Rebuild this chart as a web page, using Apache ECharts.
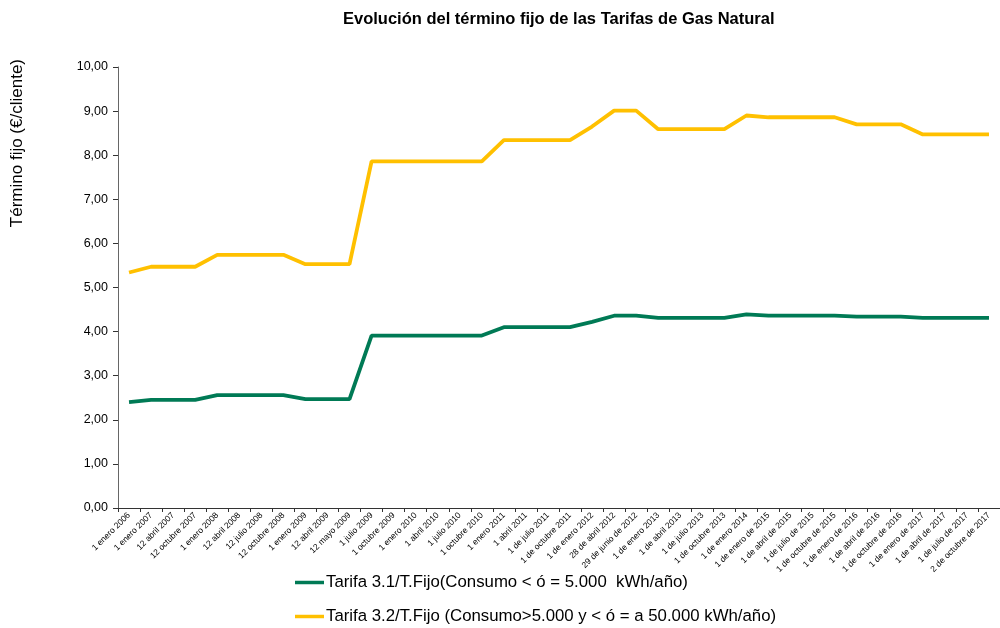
<!DOCTYPE html>
<html>
<head>
<meta charset="utf-8">
<script src="https://cdn.jsdelivr.net/npm/echarts@6/dist/echarts.min.js"></script>
<style>
  html, body { margin: 0; padding: 0; background: #fff; }
  #main { width: 1000px; height: 628px; }
</style>
</head>
<body>
<div id="main"></div>
<script>
// fechas de cada tarifa
var categories = [
    '1 enero 2006', '1 enero 2007', '12 abril 2007', '12 octubre 2007',
    '1 enero 2008', '12 abril 2008', '12 julio 2008', '12 octubre 2008',
    '1 enero 2009', '12 abril 2009', '12 mayo 2009', '1 julio 2009',
    '1 octubre 2009', '1 enero 2010', '1 abril 2010', '1 julio 2010',
    '1 octubre 2010', '1 enero 2011', '1 abril 2011', '1 de julio 2011',
    '1 de octubre 2011', '1 de enero 2012', '28 de abril 2012', '29 de junio de 2012',
    '1 de enero 2013', '1 de abril 2013', '1 de julio 2013', '1 de octubre 2013',
    '1 de enero 2014', '1 de enero de 2015', '1 de abril de 2015', '1 de julio de 2015',
    '1 de octubre de 2015', '1 de enero de 2016', '1 de abril de 2016', '1 de octubre de 2016',
    '1 de enero de 2017', '1 de abril de 2017', '1 de julio de 2017', '2 de octubre de 2017'
];

// Tarifa 3.1
var tarifa31 = [
    2.40, 2.45, 2.45, 2.45,
    2.56, 2.56, 2.56, 2.56,
    2.47, 2.47, 2.47, 3.91,
    3.91, 3.91, 3.91, 3.91,
    3.91, 4.10, 4.10, 4.10,
    4.10, 4.22, 4.36, 4.36,
    4.31, 4.31, 4.31, 4.31,
    4.39, 4.36, 4.36, 4.36,
    4.36, 4.34, 4.34, 4.34,
    4.31, 4.31, 4.31, 4.31
];

// Tarifa 3.2
var tarifa32 = [
    5.34, 5.47, 5.47, 5.47,
    5.74, 5.74, 5.74, 5.74,
    5.53, 5.53, 5.53, 7.86,
    7.86, 7.86, 7.86, 7.86,
    7.86, 8.34, 8.34, 8.34,
    8.34, 8.65, 9.01, 9.01,
    8.59, 8.59, 8.59, 8.59,
    8.90, 8.86, 8.86, 8.86,
    8.86, 8.70, 8.70, 8.70,
    8.47, 8.47, 8.47, 8.47
];

var seriesNames = [
    'Tarifa 3.1/T.Fijo(Consumo < ó = 5.000  kWh/año)',
    'Tarifa 3.2/T.Fijo (Consumo>5.000 y < ó = a 50.000 kWh/año)'
];

var chart = echarts.init(document.getElementById('main'), null, { renderer: 'canvas' });
var font = 'Liberation Sans, Arial, sans-serif';

// una leyenda por serie, una debajo de otra
function makeLegend(name, top) {
    return {
        left: 290,
        top: top,
        icon: 'rect',
        itemWidth: 29,
        itemHeight: 3.5,
        itemGap: 0,
        textStyle: { fontFamily: font, fontSize: 16.8, color: '#000', padding: [0, 0, 0, -3] },
        data: [name]
    };
}

var option = {
    backgroundColor: '#ffffff',
    animation: false,
    title: {
        text: 'Evolución del término fijo de las Tarifas de Gas Natural',
        left: 338,
        top: 6,
        textStyle: { fontFamily: font, fontSize: 16.5, fontWeight: 'bold', color: '#000' }
    },
    graphic: [{
        type: 'text',
        left: 9,
        top: 59,
        rotation: Math.PI / 2,
        style: {
            text: 'Término fijo (€/cliente)',
            font: '17px ' + font,
            fill: '#000'
        }
    }],
    legend: [
        makeLegend(seriesNames[0], 569),
        makeLegend(seriesNames[1], 603)
    ],
    grid: { left: 118, top: 67, width: 889, height: 441, containLabel: false },
    xAxis: {
        type: 'category',
        data: categories,
        boundaryGap: true,
        axisLine: { lineStyle: { color: '#333', width: 1 } },
        axisTick: { show: true, interval: 0, length: 4, lineStyle: { color: '#333' } },
        axisLabel: { interval: 0, rotate: 45, fontSize: 8.5, fontFamily: font, color: '#000', margin: 6 },
        splitLine: { show: false }
    },
    yAxis: {
        type: 'value',
        min: 0,
        max: 10,
        interval: 1,
        axisLine: { show: true, lineStyle: { color: '#666', width: 1 } },
        axisTick: { show: true, length: 5, lineStyle: { color: '#333' } },
        axisLabel: {
            fontSize: 12.5, fontFamily: font, color: '#000', margin: 10,
            formatter: function (v) { return v.toFixed(2).replace('.', ','); }
        },
        splitLine: { show: false }
    },
    series: [
        {
            name: seriesNames[0],
            type: 'line',
            data: tarifa31,
            symbol: 'none',
            color: '#007A55',
            lineStyle: { width: 3.8, color: '#007A55' }
        },
        {
            name: seriesNames[1],
            type: 'line',
            data: tarifa32,
            symbol: 'none',
            color: '#FFC000',
            lineStyle: { width: 3.8, color: '#FFC000' }
        }
    ]
};
chart.setOption(option);
</script>
</body>
</html>
